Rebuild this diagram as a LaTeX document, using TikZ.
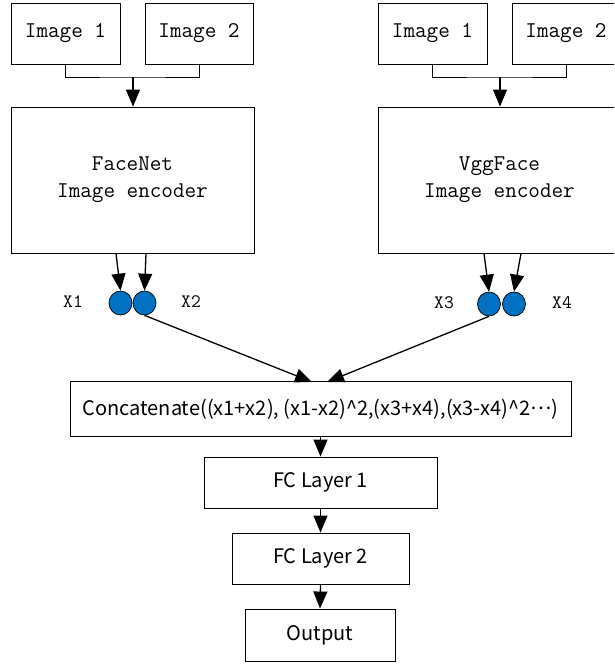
\documentclass[tikz,border=0pt]{standalone}
\usepackage{fontspec}
\usetikzlibrary{arrows.meta,shapes.geometric}
\newfontfamily\cjksans{Noto Sans CJK SC}
\definecolor{dotblue}{RGB}{0,112,192}
\begin{document}
\begin{tikzpicture}[x=1pt,y=-1pt,
  box/.style={draw, line width=0.9pt, rectangle, inner sep=0pt, align=center},
  mono/.style={font=\fontsize{22.5}{27}\selectfont\ttfamily},
  sans/.style={font=\fontsize{20}{24}\selectfont\cjksans},
  dot/.style={draw, fill=dotblue, ellipse, minimum width=23pt, minimum height=24pt, inner sep=0pt, line width=0.7pt},
  lbl/.style={font=\fontsize{19}{22}\selectfont\ttfamily, inner sep=0pt},
  arr/.style={line width=1.3pt, -{Triangle[width=14pt,length=17pt]}},
  ln/.style={line width=0.9pt}]
\useasboundingbox (0,0) rectangle (614,664);
\clip (0,0) rectangle (614,664);
% left branch
\node[box,mono,minimum width=109pt,minimum height=61pt] (li1) at (65.5,33.5) {Image 1};
\node[box,mono,minimum width=108pt,minimum height=61pt] (li2) at (199,33.5) {Image 2};
\node[box,mono,minimum width=243pt,minimum height=146pt] (fn) at (132.5,180) {FaceNet\\Image encoder};
% right branch
\node[box,mono,minimum width=109pt,minimum height=61pt] (ri1) at (432.5,33.5) {Image 1};
\node[box,mono,minimum width=108pt,minimum height=61pt] (ri2) at (566,33.5) {Image 2};
\node[box,mono,minimum width=243pt,minimum height=146pt] (vg) at (499.5,180) {VggFace\\Image encoder};
% join connectors
\coordinate (lj) at (133,77);
\coordinate (rj) at (500,77);
\draw[ln] (li1.south) |- (lj) -| (li2.south);
\draw[arr] (lj) -- (fn.north -| lj);
\draw[ln] (ri1.south) |- (rj) -| (ri2.south);
\draw[arr] (rj) -- (vg.north -| rj);
% embeddings
\node[dot] (x1) at (120.5,303) {};
\node[dot] (x2) at (144.5,303) {};
\node[dot] (x3) at (489,304) {};
\node[dot] (x4) at (514,304) {};
\node[lbl] (lx1) at (73,302) {X1};
\node[lbl] (lx2) at (191,302) {X2};
\node[lbl] (lx3) at (444,303) {X3};
\node[lbl] (lx4) at (562,303) {X4};
\coordinate (a1) at (116,253.5);
\coordinate (a2) at (146,253.5);
\coordinate (a3) at (484,253.5);
\coordinate (a4) at (521,253.5);
\draw[arr] (a1) -- (x1.north);
\draw[arr] (a2) -- (x2.north);
\draw[arr] (a3) -- (x3.north);
\draw[arr] (a4) -- (x4.north);
% concat
\node[box,sans,minimum width=501pt,minimum height=55pt] (cc) at (320.5,409) {Concatenate((x1+x2), (x1-x2)\^{}2,(x3+x4),(x3-x4)\^{}2\raisebox{0.28em}{…})};
\coordinate (c1) at (312,382);
\coordinate (c2) at (327,382);
\draw[arr] (x2.south) -- (c1);
\draw[arr] (x3.south) -- (c2);
% FC layers
\node[box,sans,minimum width=233pt,minimum height=51pt] (fc1) at (320.5,482.5) {FC Layer 1};
\node[box,sans,minimum width=177pt,minimum height=51pt] (fc2) at (320.5,558.5) {FC Layer 2};
\node[box,sans,minimum width=150pt,minimum height=52pt] (out) at (320,635) {Output};
\draw[arr] (cc.south -| fc1.north) -- (fc1.north);
\draw[arr] (fc1.south) -- (fc2.north);
\draw[arr] (fc2.south) -- (out.north);
\end{tikzpicture}
\end{document}
